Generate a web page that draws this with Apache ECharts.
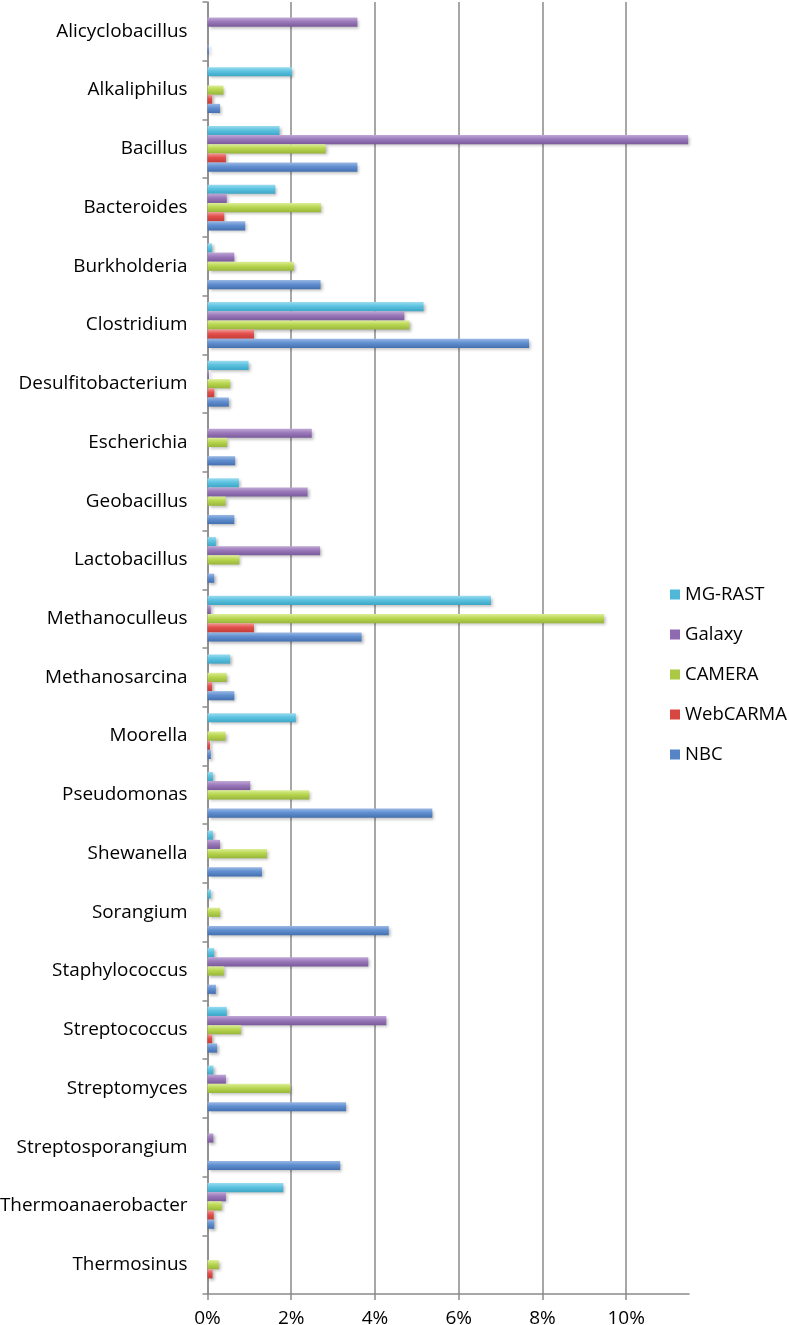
<!DOCTYPE html>
<html>
<head>
<meta charset="utf-8">
<script src="https://cdn.jsdelivr.net/npm/echarts@6/dist/echarts.min.js"></script>
<style>
html,body{margin:0;padding:0;background:#fff;overflow:hidden;}
#chart{width:790px;height:1325px;}
</style>
</head>
<body>
<div id="chart"></div>
<script>
const categories = ["Alicyclobacillus","Alkaliphilus","Bacillus","Bacteroides","Burkholderia","Clostridium","Desulfitobacterium","Escherichia","Geobacillus","Lactobacillus","Methanoculleus","Methanosarcina","Moorella","Pseudomonas","Shewanella","Sorangium","Staphylococcus","Streptococcus","Streptomyces","Streptosporangium","Thermoanaerobacter","Thermosinus"];
const mgRast   = [0, 2.02, 1.72, 1.62, 0.11, 5.16, 0.98, 0, 0.75, 0.20, 6.77, 0.54, 2.11, 0.13, 0.13, 0.08, 0.16, 0.46, 0.14, 0, 1.81, 0];
const galaxy   = [3.58, 0, 11.48, 0.46, 0.64, 4.70, 0.03, 2.49, 2.39, 2.69, 0.08, 0, 0, 1.02, 0.30, 0, 3.84, 4.27, 0.44, 0.14, 0.44, 0];
const camera   = [0, 0.38, 2.82, 2.71, 2.06, 4.82, 0.54, 0.47, 0.43, 0.76, 9.47, 0.46, 0.43, 2.43, 1.42, 0.30, 0.39, 0.80, 1.98, 0, 0.34, 0.27];
const webCarma = [0, 0.11, 0.44, 0.40, 0, 1.11, 0.16, 0, 0, 0, 1.11, 0.11, 0.06, 0, 0, 0, 0, 0.11, 0, 0, 0.15, 0.12];
const nbc      = [0.03, 0.30, 3.58, 0.90, 2.70, 7.68, 0.51, 0.66, 0.64, 0.16, 3.68, 0.64, 0.08, 5.37, 1.30, 4.33, 0.20, 0.23, 3.31, 3.17, 0.16, 0];
const xTicks = [0, 2, 4, 6, 8, 10];

const FONT = 'Open Sans';
function grad(top, mid, bot) {
  return new echarts.graphic.LinearGradient(0, 0, 0, 1, [
    {offset: 0, color: top}, {offset: 0.45, color: mid}, {offset: 1, color: bot}
  ]);
}
const seriesDefs = [
  {name: 'MG-RAST', data: mgRast, c: ['#9bdcf0', '#5bc2e0', '#3ea6c6'], legend: '#4fb8d8'},
  {name: 'Galaxy', data: galaxy, c: ['#c0a8d6', '#9a78ba', '#7a5a9c'], legend: '#8e6bb0'},
  {name: 'CAMERA', data: camera, c: ['#dcee98', '#b9d650', '#98b63a'], legend: '#acc944'},
  {name: 'WebCARMA', data: webCarma, c: ['#f29a98', '#e2504c', '#c43c38'], legend: '#d84642'},
  {name: 'NBC', data: nbc, c: ['#9ab8e4', '#608fd0', '#4570b0'], legend: '#5684c4'}
];

const chart = echarts.init(document.getElementById('chart'), null, {renderer: 'canvas'});
const series = seriesDefs.map((s, i) => ({
  name: s.name,
  type: 'bar',
  data: s.data,
  barGap: '0%',
  barCategoryGap: '22%',
  itemStyle: {
    color: grad(s.c[0], s.c[1], s.c[2]),
    shadowColor: 'rgba(0,0,0,0.28)',
    shadowBlur: 3,
    shadowOffsetX: 2,
    shadowOffsetY: 2
  },
  emphasis: {disabled: true},
  animation: false,
  z: 2
}));

chart.setOption({
  animation: false,
  backgroundColor: '#ffffff',
  color: seriesDefs.map(s => s.legend),
  grid: {left: 207.5, right: 101, top: 2, bottom: 31, containLabel: false, outerBoundsMode: 'none'},
  legend: {
    orient: 'vertical',
    left: 665,
    top: 580,
    icon: 'rect',
    itemWidth: 10,
    itemHeight: 10,
    itemGap: 21,
    itemTextGap: 8,
    textStyle: {fontFamily: FONT, fontSize: 18.5, color: '#000'},
    data: seriesDefs.map(s => ({name: s.name, itemStyle: {color: s.legend}}))
  },
  xAxis: {
    type: 'value',
    min: 0,
    max: 11.5,
    interval: 2,
    axisLine: {show: true, lineStyle: {color: '#8c8a88', width: 1.5}},
    axisTick: {show: true, length: 6, lineStyle: {color: '#8c8a88', width: 1.5}, customValues: xTicks},
    axisLabel: {customValues: xTicks, formatter: '{value}%', fontFamily: FONT, fontSize: 19, color: '#000', margin: 15},
    splitLine: {show: true, lineStyle: {color: '#8c8a88', width: 1.5}}
  },
  yAxis: {
    type: 'category',
    data: categories,
    inverse: true,
    axisLine: {show: true, lineStyle: {color: '#8c8a88', width: 1.5}},
    axisTick: {show: true, length: 5, lineStyle: {color: '#8c8a88', width: 1.5}},
    axisLabel: {fontFamily: FONT, fontSize: 18.9, color: '#000', margin: 20}
  },
  series: series
});
</script>
</body>
</html>
